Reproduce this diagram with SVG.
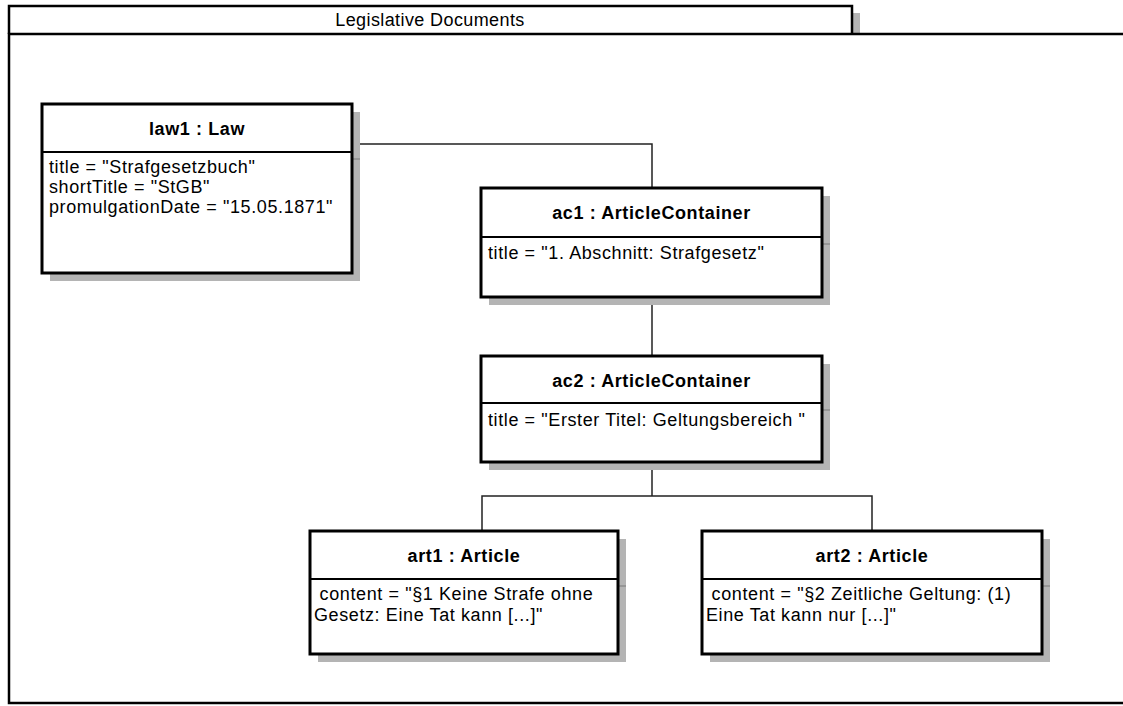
<svg xmlns="http://www.w3.org/2000/svg" width="1123" height="706" viewBox="0 0 1123 706">
  <style>
    .frame { fill: none; stroke: #000; stroke-width: 2.5; }
    .shadow { fill: #b4b4b4; }
    .shadow-line { stroke: #8c8c8c; stroke-width: 1.5; }
    .box { fill: #fff; stroke: #000; stroke-width: 3; }
    .sep { stroke: #000; stroke-width: 2; }
    .conn { fill: none; stroke: #222; stroke-width: 1.5; }
    .head { font-family: "Liberation Sans", Arial, sans-serif; font-size: 18px; font-weight: bold; letter-spacing: 0.6px; text-anchor: middle; fill: #000; }
    .attr { font-family: "Liberation Sans", Arial, sans-serif; font-size: 18px; letter-spacing: 0.6px; fill: #000; white-space: pre; }
    .title { font-family: "Liberation Sans", Arial, sans-serif; font-size: 18px; letter-spacing: 0.4px; text-anchor: middle; fill: #000; }
  </style>

  <rect width="1123" height="706" fill="#fff"/>

  <!-- package frame -->
  <g id="package">
    <rect class="shadow" x="853" y="13" width="7" height="20"/>
    <path class="frame" d="M9,34 V6 H852 V34"/>
    <rect class="frame" x="9" y="34" width="1130" height="669"/>
    <text class="title" x="430" y="26">Legislative Documents</text>
  </g>

  <!-- links -->
  <g id="connectors">
    <path class="conn" d="M352,144 H652 V188"/>
    <path class="conn" d="M652,297 V356"/>
    <path class="conn" d="M652,462 V496"/>
    <path class="conn" d="M482,531 V496 H872 V531"/>
  </g>

  <g id="law1">
    <rect class="shadow" x="50" y="112" width="310" height="169"/>
    <line class="shadow-line" x1="353" y1="159" x2="360" y2="159"/>
    <rect class="box" x="42" y="104" width="310" height="169"/>
    <line class="sep" x1="42" y1="152" x2="352" y2="152"/>
    <text class="head" x="197" y="135">law1 : Law</text>
    <text class="attr" x="49" y="173">title = "Strafgesetzbuch"</text>
    <text class="attr" x="49" y="193">shortTitle = "StGB"</text>
    <text class="attr" x="49" y="213">promulgationDate = "15.05.1871"</text>
  </g>

  <g id="ac1">
    <rect class="shadow" x="489" y="196" width="341" height="109"/>
    <line class="shadow-line" x1="823" y1="244" x2="830" y2="244"/>
    <rect class="box" x="481" y="188" width="341" height="109"/>
    <line class="sep" x1="481" y1="237" x2="822" y2="237"/>
    <text class="head" x="651.5" y="219">ac1 : ArticleContainer</text>
    <text class="attr" x="488" y="259">title = "1. Abschnitt: Strafgesetz"</text>
  </g>

  <g id="ac2">
    <rect class="shadow" x="489" y="364" width="341" height="106"/>
    <line class="shadow-line" x1="823" y1="410" x2="830" y2="410"/>
    <rect class="box" x="481" y="356" width="341" height="106"/>
    <line class="sep" x1="481" y1="403" x2="822" y2="403"/>
    <text class="head" x="651.5" y="387">ac2 : ArticleContainer</text>
    <text class="attr" x="488" y="426">title = "Erster Titel: Geltungsbereich "</text>
  </g>

  <g id="art1">
    <rect class="shadow" x="318" y="539" width="308" height="123"/>
    <line class="shadow-line" x1="619" y1="586" x2="626" y2="586"/>
    <rect class="box" x="310" y="531" width="308" height="123"/>
    <line class="sep" x1="310" y1="579" x2="618" y2="579"/>
    <text class="head" x="464" y="562">art1 : Article</text>
    <text class="attr" x="314" y="600"> content = "§1 Keine Strafe ohne</text>
    <text class="attr" x="314" y="621">Gesetz: Eine Tat kann [...]"</text>
  </g>

  <g id="art2">
    <rect class="shadow" x="710" y="539" width="340" height="123"/>
    <line class="shadow-line" x1="1043" y1="586" x2="1050" y2="586"/>
    <rect class="box" x="702" y="531" width="340" height="123"/>
    <line class="sep" x1="702" y1="579" x2="1042" y2="579"/>
    <text class="head" x="872" y="562">art2 : Article</text>
    <text class="attr" x="706" y="600"> content = "§2 Zeitliche Geltung: (1)</text>
    <text class="attr" x="706" y="621">Eine Tat kann nur [...]"</text>
  </g>
</svg>
